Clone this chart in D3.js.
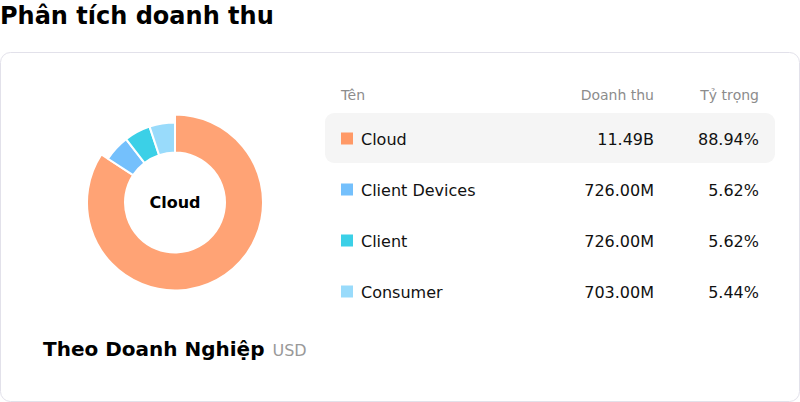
<!DOCTYPE html>
<html>
<head>
<meta charset="utf-8">
<script src="https://cdn.jsdelivr.net/npm/d3@7"></script>
<style>
  body { margin: 0; background: #fff; font-family: "DejaVu Sans", sans-serif; }
</style>
</head>
<body>
<div id="chart"></div>
<script>
// Data
var names = ["Cloud", "Client Devices", "Client", "Consumer"];
var revenue = [11490, 726, 726, 703]; // millions USD
var revenueLabels = ["11.49B", "726.00M", "726.00M", "703.00M"];
var shares = ["88.94%", "5.62%", "5.62%", "5.44%"];
var colors = ["#ff9966", "#74c0fc", "#3bd0e7", "#99dbfb"];
var headers = ["Tên", "Doanh thu", "Tỷ trọng"];

var width = 800, height = 402;

var svg = d3.select("#chart").append("svg")
    .attr("width", width)
    .attr("height", height);

// Page title
svg.append("text")
    .attr("x", 0)
    .attr("y", 24)
    .style("font-size", "24px")
    .style("font-weight", "bold")
    .style("fill", "#000")
    .text("Phân tích doanh thu");

// Card
svg.append("rect")
    .attr("x", 0.5)
    .attr("y", 52.5)
    .attr("width", 799)
    .attr("height", 349)
    .attr("rx", 10)
    .style("fill", "#fff")
    .style("stroke", "#e2e1ea");

// Donut
var cx = 175, cy = 202.5;
var pie = d3.pie().sort(null).value(function(d) { return d; });
var arcs = pie(revenue);
var arcNormal = d3.arc().innerRadius(50).outerRadius(80);
var arcActive = d3.arc().innerRadius(50).outerRadius(88);

var gDonut = svg.append("g")
    .attr("transform", "translate(" + cx + "," + cy + ")");

gDonut.selectAll("path")
    .data(arcs)
    .enter()
    .append("path")
    .attr("d", function(d, i) { return i === 0 ? arcActive(d) : arcNormal(d); })
    .style("fill", function(d, i) { return colors[i]; })
    .style("fill-opacity", function(d, i) { return i === 0 ? 0.9 : 1; })
    .style("stroke", "#fff")
    .style("stroke-width", 2);

gDonut.append("text")
    .attr("text-anchor", "middle")
    .attr("y", 5)
    .style("font-size", "16px")
    .style("font-weight", "bold")
    .style("fill", "#000")
    .text(names[0]);

// Bottom label
var footer = svg.append("text")
    .attr("x", 43)
    .attr("y", 356);
footer.append("tspan")
    .style("font-size", "20px")
    .style("font-weight", "bold")
    .style("fill", "#000")
    .text("Theo Doanh Nghiệp");
footer.append("tspan")
    .attr("dx", 8)
    .style("font-size", "16px")
    .style("fill", "#999")
    .text("USD");

// Table
var rowY = d3.scaleBand()
    .domain(names)
    .range([113, 317])
    .paddingInner(0);

var colName = 341, colRev = 654, colShare = 759;

var gHead = svg.append("g").style("font-size", "14px").style("fill", "#8c8c8c");
gHead.append("text").attr("x", colName).attr("y", 100).text(headers[0]);
gHead.append("text").attr("x", colRev).attr("y", 100).attr("text-anchor", "end").text(headers[1]);
gHead.append("text").attr("x", colShare).attr("y", 100).attr("text-anchor", "end").text(headers[2]);

var rows = svg.selectAll(".row")
    .data(names)
    .enter()
    .append("g")
    .attr("class", "row")
    .attr("transform", function(d) { return "translate(0," + rowY(d) + ")"; });

rows.filter(function(d, i) { return i === 0; })
    .append("rect")
    .attr("x", 325)
    .attr("y", 0)
    .attr("width", 450)
    .attr("height", 50)
    .attr("rx", 9)
    .style("fill", "#f5f5f5");

rows.append("rect")
    .attr("x", colName)
    .attr("y", rowY.bandwidth() / 2 - 6)
    .attr("width", 12)
    .attr("height", 12)
    .style("fill", function(d, i) { return colors[i]; });

rows.append("text")
    .attr("x", 361)
    .attr("y", rowY.bandwidth() / 2 + 6)
    .style("font-size", "16px")
    .style("fill", "#111")
    .text(function(d) { return d; });

rows.append("text")
    .attr("x", colRev)
    .attr("y", rowY.bandwidth() / 2 + 6)
    .attr("text-anchor", "end")
    .style("font-size", "16px")
    .style("fill", "#111")
    .text(function(d, i) { return revenueLabels[i]; });

rows.append("text")
    .attr("x", colShare)
    .attr("y", rowY.bandwidth() / 2 + 6)
    .attr("text-anchor", "end")
    .style("font-size", "16px")
    .style("fill", "#111")
    .text(function(d, i) { return shares[i]; });
</script>
</body>
</html>
